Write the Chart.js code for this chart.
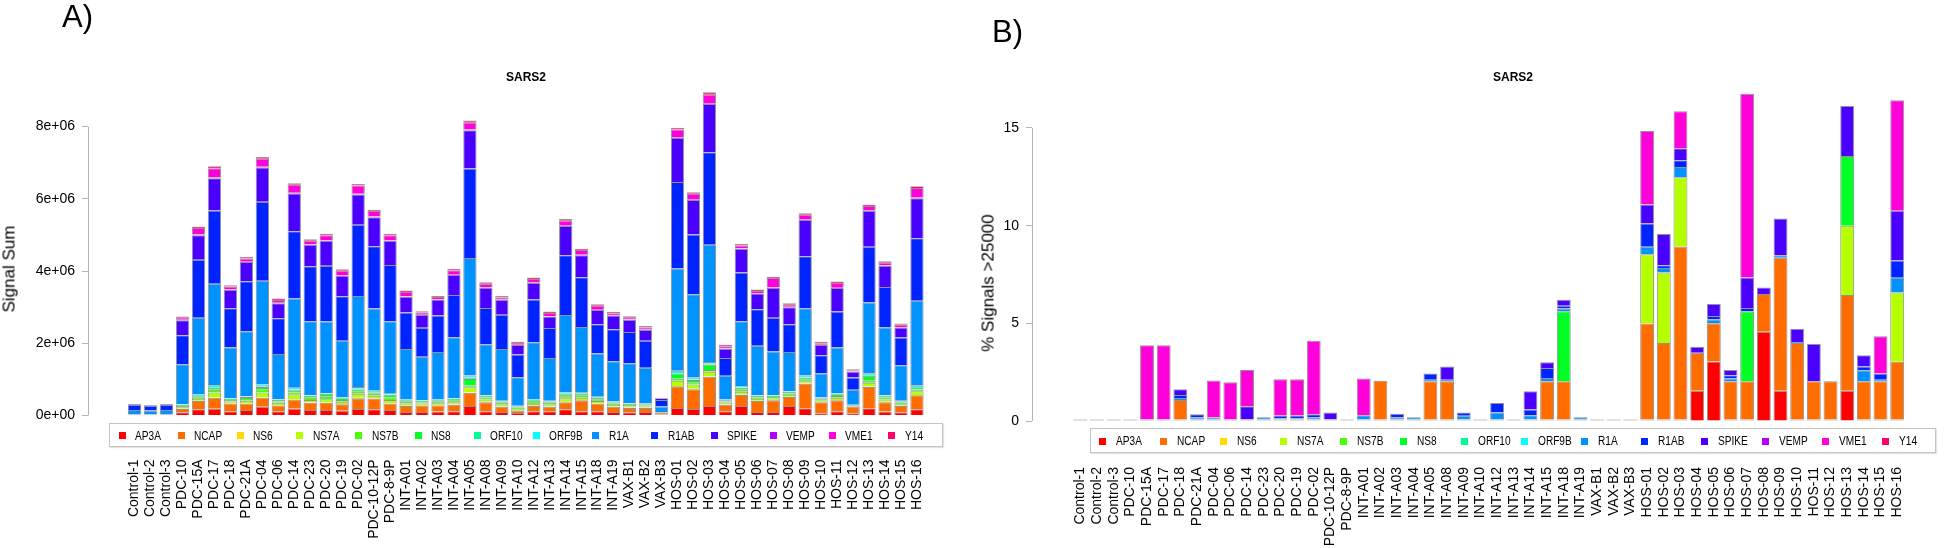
<!DOCTYPE html>
<html><head><meta charset="utf-8">
<script src="https://cdn.jsdelivr.net/npm/chart.js@4.4.1/dist/chart.umd.min.js"></script>
<style>
html,body{margin:0;padding:0;background:#fff;}
#wrap{position:relative;width:1960px;height:548px;overflow:hidden;font-family:'Liberation Sans',Arial,sans-serif;color:#000;}
canvas{position:absolute;top:0;}
.panel{position:absolute;font-size:31px;line-height:31px;white-space:nowrap;}
.title{position:absolute;font-weight:bold;font-size:12px;line-height:12px;transform:translateX(-50%);white-space:nowrap;}
.ytitle{position:absolute;font-size:17px;line-height:17px;white-space:nowrap;transform:translate(-50%,-50%) rotate(-90deg);}
.legend{position:absolute;border:1px solid #c4c4c4;box-sizing:border-box;box-shadow:1px 1px 1px #e4e4e4;}
.lg-sq{position:absolute;width:7px;height:7px;}
.lg-tx{position:absolute;font-size:12.5px;line-height:12.5px;white-space:nowrap;transform:scaleX(0.81);transform-origin:0 50%;}
</style></head><body>
<div id="wrap">
  <canvas id="cA" width="980" height="548" style="left:0"></canvas>
  <canvas id="cB" width="980" height="548" style="left:980px"></canvas>
  <div class="panel" style="left:62px;top:1px;">A)</div>
  <div class="panel" style="left:992px;top:16px;">B)</div>
  <div class="title" style="left:526px;top:71px;">SARS2</div>
  <div class="title" style="left:1513px;top:71px;">SARS2</div>
  <div class="ytitle" style="left:9px;top:269px;">Signal Sum</div>
  <div class="ytitle" style="left:988px;top:283px;">% Signals &gt;25000</div>
</div>
<script>
// ---------- categories & series ----------
const categories = ['Control-1','Control-2','Control-3','PDC-10','PDC-15A','PDC-17','PDC-18','PDC-21A','PDC-04','PDC-06',
  'PDC-14','PDC-23','PDC-20','PDC-19','PDC-02','PDC-10-12P','PDC-8-9P','INT-A01','INT-A02','INT-A03',
  'INT-A04','INT-A05','INT-A08','INT-A09','INT-A10','INT-A12','INT-A13','INT-A14','INT-A15','INT-A18',
  'INT-A19','VAX-B1','VAX-B2','VAX-B3','HOS-01','HOS-02','HOS-03','HOS-04','HOS-05','HOS-06',
  'HOS-07','HOS-08','HOS-09','HOS-10','HOS-11','HOS-12','HOS-13','HOS-14','HOS-15','HOS-16'];
const seriesNames = ['AP3A','NCAP','NS6','NS7A','NS7B','NS8','ORF10','ORF9B','R1A','R1AB','SPIKE','VEMP','VME1','Y14'];
const seriesColors = ['#FF0000','#FF6D00','#FFDB00','#B6FF00','#49FF00','#00FF24','#00FF92','#00FFFF','#0092FF','#0024FF','#4900FF','#B600FF','#FF00DB','#FF006D'];

// ---------- Panel A: Signal Sum (millions) ----------
const AP3A_A  = [0.01,0.01,0.01,0.09,0.17,0.19,0.12,0.15,0.24,0.12, 0.19,0.15,0.15,0.13,0.18,0.17,0.15,0.10,0.10,0.11, 0.12,0.26,0.12,0.10,0.07,0.12,0.12,0.17,0.12,0.12, 0.10,0.09,0.10,0.03,0.21,0.18,0.26,0.12,0.26,0.10, 0.10,0.26,0.20,0.06,0.12,0.06,0.20,0.11,0.09,0.17];
const NCAP_A  = [0.02,0.02,0.02,0.09,0.23,0.30,0.21,0.18,0.25,0.16, 0.25,0.20,0.20,0.18,0.30,0.30,0.18,0.16,0.18,0.17, 0.18,0.37,0.25,0.14,0.07,0.14,0.12,0.20,0.30,0.21, 0.14,0.12,0.11,0.05,0.60,0.55,0.81,0.18,0.31,0.30, 0.32,0.25,0.68,0.31,0.30,0.19,0.59,0.26,0.17,0.39];
const NS6_A   = [0,0,0,0.01,0.01,0.01,0.01,0.01,0.01,0.01, 0.01,0.01,0.01,0.01,0.01,0.01,0.01,0.01,0.01,0.01, 0.01,0.01,0.01,0.01,0.01,0.01,0.01,0.01,0.01,0.01, 0.01,0.01,0.01,0,0.01,0.01,0.01,0.01,0.01,0.01, 0.01,0.01,0.01,0.01,0.01,0,0.01,0.01,0.01,0.01];
const NS7A_A  = [0,0,0,0.04,0.05,0.14,0.05,0.07,0.14,0.06, 0.14,0.07,0.09,0.06,0.11,0.07,0.09,0.06,0.04,0.05, 0.06,0.14,0.06,0.05,0.03,0.05,0.05,0.10,0.06,0.06, 0.04,0.03,0.03,0,0.14,0.12,0.13,0.05,0.08,0.05, 0.04,0.05,0.06,0.03,0.06,0.01,0.11,0.06,0.04,0.10];
const NS7B_A  = [0,0,0,0.03,0.03,0.07,0.04,0.05,0.09,0.04, 0.05,0.06,0.07,0.05,0.06,0.05,0.07,0.05,0.04,0.04, 0.05,0.05,0.06,0.05,0.04,0.05,0.05,0.05,0.06,0.05, 0.04,0.04,0.03,0,0.06,0.05,0.05,0.03,0.05,0.04, 0.04,0.04,0.04,0.04,0.05,0.01,0.05,0.06,0.04,0.05];
const NS8_A   = [0,0,0,0.03,0.04,0.06,0.03,0.05,0.06,0.04, 0.06,0.06,0.08,0.05,0.06,0.04,0.08,0.04,0.04,0.04, 0.04,0.18,0.05,0.04,0.03,0.05,0.04,0.06,0.06,0.05, 0.04,0.03,0.03,0,0.14,0.07,0.15,0.03,0.06,0.04, 0.04,0.04,0.06,0.03,0.05,0.02,0.14,0.05,0.04,0.06];
const ORF10_A = [0,0,0,0.01,0.01,0.02,0.01,0.01,0.02,0.01, 0.02,0.01,0.01,0.01,0.02,0.01,0.01,0.01,0.01,0.01, 0.01,0.04,0.01,0.01,0.01,0.01,0.01,0.01,0.01,0.01, 0.01,0.01,0.01,0,0.02,0.02,0.02,0.01,0.01,0.01, 0.01,0.01,0.01,0.01,0.01,0,0.02,0.01,0.01,0.01];
const ORF9B_A = [0,0,0,0.01,0.04,0.05,0.01,0.01,0.05,0.01, 0.05,0.01,0.01,0.01,0.05,0.05,0.01,0.01,0.01,0.01, 0.01,0.06,0.01,0.01,0.01,0.01,0.01,0.04,0.01,0.01, 0.01,0.01,0.01,0,0.06,0.05,0.05,0.01,0.04,0.01, 0.01,0.01,0.05,0.01,0.01,0.01,0.05,0.01,0.01,0.05];
const R1A_A   = [0.12,0.11,0.12,1.11,2.13,2.81,1.40,1.80,2.87,1.25, 2.47,2.04,1.98,1.57,2.52,2.26,2.01,1.40,1.20,1.32, 1.69,3.25,1.40,1.43,0.79,1.59,1.18,2.14,1.82,1.20, 1.11,1.11,0.99,0.17,2.83,2.31,3.25,0.66,1.79,1.37, 1.20,1.09,1.86,0.66,1.27,0.41,1.96,1.87,0.98,2.34];
const R1AB_A  = [0.15,0.13,0.15,0.80,1.60,2.03,1.09,1.39,2.19,0.99, 1.86,1.52,1.55,1.23,1.97,1.73,1.56,1.01,0.80,1.01, 1.17,2.48,1.01,0.95,0.63,1.18,0.83,1.66,1.38,0.81, 0.89,0.86,0.75,0.18,2.40,1.65,2.56,0.49,1.35,1.01, 0.94,0.77,1.44,0.51,1.00,0.34,1.54,1.12,0.77,1.73];
const SPIKE_A = [0.02,0.02,0.02,0.42,0.68,0.89,0.51,0.53,0.95,0.42, 1.05,0.60,0.69,0.57,0.84,0.80,0.67,0.44,0.35,0.44, 0.55,1.06,0.56,0.41,0.26,0.46,0.32,0.81,0.61,0.39, 0.38,0.34,0.30,0.05,1.22,0.96,1.34,0.26,0.66,0.44, 0.83,0.47,1.01,0.28,0.65,0.16,1.00,0.59,0.28,1.11];
const VEMP_A  = [0,0,0,0.01,0.02,0.02,0.01,0.01,0.02,0.01, 0.02,0.01,0.01,0.01,0.02,0.02,0.01,0.01,0.01,0.01, 0.01,0.02,0.01,0.01,0.01,0.01,0.01,0.02,0.01,0.01, 0.01,0.01,0.01,0,0.02,0.02,0.02,0.01,0.01,0.01, 0.01,0.01,0.02,0.01,0.01,0.01,0.02,0.01,0.01,0.02];
const VME1_A  = [0,0,0,0.06,0.18,0.26,0.08,0.09,0.22,0.08, 0.22,0.10,0.14,0.13,0.23,0.15,0.14,0.12,0.06,0.06, 0.12,0.19,0.10,0.06,0.05,0.10,0.09,0.12,0.13,0.11, 0.05,0.05,0.06,0,0.21,0.15,0.23,0.06,0.08,0.06, 0.26,0.06,0.12,0.04,0.13,0.03,0.11,0.07,0.06,0.26];
const Y14_A   = [0,0,0,0.03,0.04,0.05,0.04,0.04,0.05,0.04, 0.04,0.04,0.04,0.04,0.04,0.04,0.04,0.04,0.04,0.03, 0.04,0.06,0.04,0.04,0.03,0.04,0.04,0.05,0.04,0.04, 0.04,0.04,0.04,0.01,0.05,0.04,0.07,0.04,0.04,0.04, 0.03,0.04,0.04,0.04,0.04,0.03,0.04,0.04,0.04,0.05];
const yTickValuesA = [0,2,4,6,8];
const yTickLabelsA = ['0e+00','2e+06','4e+06','6e+06','8e+06'];

// ---------- Panel B: % Signals >25000 ----------
const AP3A_B  = [0,0,0,0,0,0,0,0,0,0, 0,0,0,0,0,0,0,0,0,0, 0,0,0,0,0,0,0,0,0,0, 0,0,0,0,0,0,0,1.55,3.04,0, 0,4.57,1.55,0,0,0,1.55,0,0,0];
const NCAP_B  = [0,0,0,0,0,0,1.0,0,0,0, 0,0,0,0,0,0,0,0,1.98,0, 0,1.96,1.96,0,0,0,0,0,1.96,1.96, 0,0,0,0,4.91,3.92,8.85,1.95,1.96,1.96, 1.96,1.93,6.81,3.92,1.96,1.96,4.90,1.96,1.96,2.95];
const NS6_B   = [0,0,0,0,0,0,0,0,0,0, 0,0,0,0,0,0,0,0,0,0, 0,0,0,0,0,0,0,0,0,0, 0,0,0,0,0,0,0,0,0,0, 0,0,0,0,0,0,0,0,0,0];
const NS7A_B  = [0,0,0,0,0,0,0,0,0,0, 0,0,0,0,0,0,0,0,0,0, 0,0,0,0,0,0,0,0,0,0, 0,0,0,0,3.55,3.60,3.55,0,0,0, 0,0,0,0,0,0,3.55,0,0,3.55];
const NS7B_B  = [0,0,0,0,0,0,0,0,0,0, 0,0,0,0,0,0,0,0,0,0, 0,0,0,0,0,0,0,0,0,0, 0,0,0,0,0,0,0,0,0,0, 0,0,0,0,0,0,0,0,0,0];
const NS8_B   = [0,0,0,0,0,0,0,0,0,0, 0,0,0,0,0,0,0,0,0,0, 0,0,0,0,0,0,0,0,0,3.58, 0,0,0,0,0,0,0,0,0,0, 3.58,0,0,0,0,0,3.56,0,0,0];
const ORF10_B = [0,0,0,0,0,0,0,0,0,0, 0,0,0,0,0,0,0,0,0,0, 0,0,0,0,0,0,0,0,0,0, 0,0,0,0,0,0,0,0,0,0, 0,0,0,0,0,0,0,0,0,0];
const ORF9B_B = [0,0,0,0,0,0,0,0,0,0, 0,0,0,0,0,0,0,0,0,0, 0,0,0,0,0,0,0,0,0,0, 0,0,0,0,0,0,0,0,0,0, 0,0,0,0,0,0,0,0,0,0];
const R1A_B   = [0,0,0,0,0,0,0.10,0.10,0.10,0, 0,0.12,0.06,0.06,0.10,0,0,0.22,0,0.10, 0.12,0.08,0.08,0.19,0,0.36,0,0.22,0.17,0.14, 0.12,0,0,0,0.38,0.24,0.53,0,0.20,0.14, 0,0,0.12,0.05,0,0,0,0.56,0.08,0.75];
const R1AB_B  = [0,0,0,0,0,0,0.15,0.17,0,0, 0,0,0.15,0.15,0.17,0,0,0,0,0.19, 0,0.31,0,0.17,0,0.49,0,0.29,0.51,0.14, 0,0,0,0,1.19,0.14,0.34,0,0.17,0.17, 0.17,0,0,0,0,0,0,0.19,0.31,0.89];
const SPIKE_B = [0,0,0,0,0,0,0.30,0,0,0, 0.68,0,0,0,0,0.36,0,0,0,0, 0,0,0.67,0,0,0,0,0.94,0.29,0.31, 0,0,0,0,0.97,1.60,0.61,0.30,0.62,0.27, 1.56,0.34,1.89,0.67,1.91,0,2.56,0.58,0,2.54];
const VEMP_B  = [0,0,0,0,0,0,0,0,0,0, 0,0,0,0,0,0,0,0,0,0, 0,0,0,0,0,0,0,0,0,0, 0,0,0,0,0,0,0,0,0,0, 0,0,0,0,0,0,0,0,0,0];
const VME1_B  = [0,0,0,0,3.80,3.80,0,0,1.90,1.91, 1.86,0,1.85,1.85,3.76,0,0,1.88,0,0, 0,0,0,0,0,0,0,0,0,0, 0,0,0,0,3.77,0,1.90,0,0,0, 9.41,0,0,0,0,0,0,0,1.91,5.66];
const Y14_B   = [0,0,0,0,0,0,0,0,0,0, 0,0,0,0,0,0,0,0,0,0, 0,0,0,0,0,0,0,0,0,0, 0,0,0,0,0,0,0,0,0,0, 0,0,0,0,0,0,0,0,0,0];
const yTickValuesB = [0,5,10,15];
const yTickLabelsB = ['0','5','10','15'];

const seriesA = [AP3A_A,NCAP_A,NS6_A,NS7A_A,NS7B_A,NS8_A,ORF10_A,ORF9B_A,R1A_A,R1AB_A,SPIKE_A,VEMP_A,VME1_A,Y14_A];
const seriesB = [AP3A_B,NCAP_B,NS6_B,NS7A_B,NS7B_B,NS8_B,ORF10_B,ORF9B_B,R1A_B,R1AB_B,SPIKE_B,VEMP_B,VME1_B,Y14_B];

// ---------- rendering ----------
Chart.defaults.font.family = "'Liberation Sans', Arial, sans-serif";
Chart.defaults.color = '#000';

const axisLinePlugin = {
  id: 'axisLine',
  afterDraw(chart) {
    const ys = chart.scales.y;
    const vals = ys.ticks.map(t => t.value);
    const x = Math.round(ys.right) + 0.5;
    const ctx = chart.ctx;
    ctx.save();
    ctx.strokeStyle = '#b4b4b4';
    ctx.lineWidth = 1;
    ctx.beginPath();
    ctx.moveTo(x, ys.getPixelForValue(Math.min(...vals)));
    ctx.lineTo(x, ys.getPixelForValue(Math.max(...vals)));
    ctx.stroke();
    ctx.restore();
  }
};

const isZero = (c) => c.raw && c.raw.y === 0;

function makeChart(id, series, cfg) {
  const datasets = series.map((arr, s) => {
    const ds = {
      label: seriesNames[s],
      data: arr.map((v, i) => ({x: i, y: v})),
      backgroundColor: seriesColors[s],
      borderColor: 'rgba(110,110,110,0.75)',
      borderWidth: 1,
      borderSkipped: 'start',
      categoryPercentage: 1,
      barPercentage: 1 / 1.2
    };
    if (cfg.baseOutline && s === 0) {
      // R draws the outline of every bar, so empty bars appear as a thin grey dash on the baseline
      ds.minBarLength = 1.5;
      ds.backgroundColor = (c) => isZero(c) ? '#c6c6c6' : seriesColors[0];
      ds.borderWidth = (c) => isZero(c) ? 0 : 1;
    }
    return ds;
  });
  return new Chart(document.getElementById(id), {
    type: 'bar',
    data: { datasets },
    plugins: [axisLinePlugin],
    options: {
      responsive: false,
      animation: false,
      events: [],
      layout: { padding: { left: 0, right: cfg.padRight, top: cfg.padTop, bottom: 0 } },
      plugins: { legend: { display: false }, tooltip: { enabled: false }, title: { display: false } },
      scales: {
        x: {
          type: 'linear', stacked: true, min: cfg.xMin, max: cfg.xMax,
          grid: { display: false, drawTicks: false }, border: { display: false },
          afterBuildTicks: (s) => { s.ticks = categories.map((c, i) => ({ value: i })); },
          afterFit: (s) => { s.height = cfg.xHeight; },
          ticks: { autoSkip: false, minRotation: 90, maxRotation: 90, padding: cfg.xPad,
                   font: { size: 14 }, color: '#000', callback: (v) => categories[v] }
        },
        y: {
          stacked: true, min: 0, max: cfg.yMax,
          afterBuildTicks: (s) => { s.ticks = cfg.yTickValues.map(v => ({ value: v })); },
          afterFit: (s) => { s.width = cfg.yWidth; },
          grid: { drawOnChartArea: false, drawTicks: true, tickLength: 6, color: '#b4b4b4', lineWidth: 1 },
          border: { display: false },
          ticks: { padding: 7, font: { size: 14 }, color: '#000',
                   callback: (v) => cfg.yTickLabels[cfg.yTickValues.indexOf(v)] }
        }
      }
    }
  });
}

makeChart('cA', seriesA, {
  padRight: 45, padTop: 83.3, xMin: -2.39, xMax: 49.6, xHeight: 132.5, xPad: 44, yWidth: 88,
  yMax: 9.2, yTickValues: yTickValuesA, yTickLabels: yTickLabelsA, baseOutline: false
});
makeChart('cB', seriesB, {
  padRight: 0, padTop: 85, xMin: -2.37, xMax: 49.47, xHeight: 127, xPad: 46, yWidth: 52,
  yMax: 17.2, yTickValues: yTickValuesB, yTickLabels: yTickLabelsB, baseOutline: true
});

// ---------- legends (HTML) ----------
function buildLegend(box, sq0, step, txOff, sqTop, txTop) {
  const wrap = document.getElementById('wrap');
  const b = document.createElement('div');
  b.className = 'legend';
  Object.assign(b.style, { left: box[0] + 'px', top: box[1] + 'px', width: box[2] + 'px', height: box[3] + 'px' });
  wrap.appendChild(b);
  seriesNames.forEach((name, i) => {
    const sq = document.createElement('div');
    sq.className = 'lg-sq';
    Object.assign(sq.style, { left: (sq0 + step * i) + 'px', top: sqTop + 'px', background: seriesColors[i] });
    wrap.appendChild(sq);
    const tx = document.createElement('div');
    tx.className = 'lg-tx';
    tx.textContent = name;
    Object.assign(tx.style, { left: (sq0 + step * i + txOff) + 'px', top: txTop + 'px' });
    wrap.appendChild(tx);
  });
}
buildLegend([109, 423, 834, 24], 118.5, 59.2, 16.5, 432, 430);
buildLegend([1090, 428, 846, 25], 1099.3, 60.2, 17, 438, 434.5);
</script>
</body></html>
